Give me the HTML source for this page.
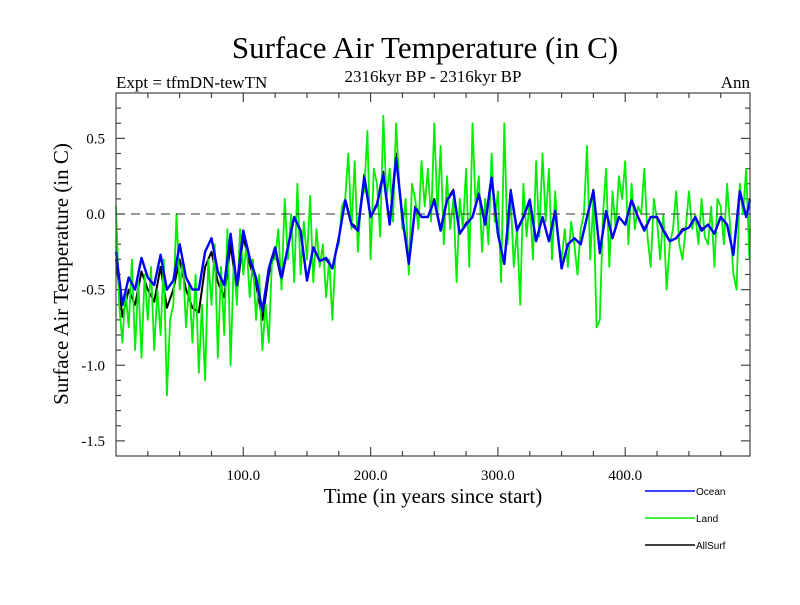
<!DOCTYPE html>
<html><head><meta charset="utf-8"><style>
body{margin:0;background:#fff;width:800px;height:600px;overflow:hidden}
svg text{font-family:"Liberation Serif",serif;fill:#000}
</style></head><body>
<svg id="chart" width="800" height="600" xmlns="http://www.w3.org/2000/svg">
<text x="425" y="58" font-size="31" text-anchor="middle">Surface Air Temperature (in C)</text>
<text x="116" y="88" font-size="17">Expt = tfmDN-tewTN</text>
<text x="433" y="82" font-size="17" text-anchor="middle">2316kyr BP - 2316kyr BP</text>
<text x="750" y="88" font-size="17" text-anchor="end">Ann</text>
<text x="433" y="503" font-size="21" text-anchor="middle">Time (in years since start)</text>
<text transform="translate(68,274) rotate(-90)" font-size="21" text-anchor="middle">Surface Air Temperature (in C)</text>
<g id="axes"></g>
<g id="series"></g>
<rect x="116" y="93" width="634" height="363" fill="none" stroke="#444" stroke-width="1.2"/>
<g>
<g><line x1="645" y1="491" x2="695" y2="491" stroke="#0000ff" stroke-width="1.5"/><text x="696" y="495" font-size="10" style="font-family:'Liberation Sans',sans-serif">Ocean</text></g>
<g><line x1="645" y1="518" x2="695" y2="518" stroke="#00ee00" stroke-width="1.5"/><text x="696" y="522" font-size="10" style="font-family:'Liberation Sans',sans-serif">Land</text></g>
<g><line x1="645" y1="545" x2="695" y2="545" stroke="#000" stroke-width="1.5"/><text x="696" y="549" font-size="10" style="font-family:'Liberation Sans',sans-serif">AllSurf</text></g>
</g>
</svg>
<script>
const xTickLabels=[100,200,300,400];
const yTickLabels=[0.5,0.0,-0.5,-1.0,-1.5];
const oceanStep=5;
const ocean=[-0.25,-0.6,-0.42,-0.5,-0.29,-0.42,-0.47,-0.27,-0.5,-0.44,-0.2,-0.42,-0.5,-0.5,-0.25,-0.16,-0.38,-0.47,-0.13,-0.47,
-0.11,-0.29,-0.42,-0.64,-0.36,-0.22,-0.42,-0.22,-0.02,-0.11,-0.44,-0.22,-0.31,-0.29,-0.36,-0.16,0.09,-0.07,-0.11,0.24,
-0.02,0.06,0.26,-0.07,0.37,-0.02,-0.33,0.04,-0.02,-0.02,0.09,-0.11,0.09,0.15,-0.13,-0.07,-0.02,0.13,-0.07,0.24,
-0.13,-0.33,0.15,-0.11,-0.02,0.09,-0.18,-0.02,-0.18,0.02,-0.36,-0.2,-0.16,-0.2,-0.02,0.15,-0.25,0.02,-0.16,-0.02,
-0.07,0.09,-0.02,-0.11,-0.02,-0.02,-0.11,-0.18,-0.16,-0.11,-0.09,-0.02,-0.11,-0.07,-0.13,-0.02,-0.07,-0.27,0.15,-0.02,0.09];
const allSurf=[-0.3,-0.68,-0.5,-0.6,-0.38,-0.5,-0.58,-0.35,-0.62,-0.5,-0.3,-0.5,-0.62,-0.65,-0.35,-0.25,-0.45,-0.55,-0.2,-0.52,
-0.15,-0.33,-0.46,-0.7,-0.4,-0.24,-0.44,-0.22,-0.02,-0.12,-0.44,-0.22,-0.31,-0.3,-0.36,-0.16,0.1,-0.06,-0.1,0.26,
-0.02,0.07,0.28,-0.06,0.4,-0.02,-0.33,0.05,-0.02,-0.02,0.1,-0.1,0.1,0.16,-0.13,-0.06,-0.02,0.14,-0.06,0.26,
-0.13,-0.33,0.16,-0.1,-0.02,0.1,-0.18,-0.02,-0.18,0.03,-0.36,-0.2,-0.16,-0.2,-0.02,0.16,-0.26,0.02,-0.16,-0.02,
-0.07,0.1,-0.02,-0.1,-0.02,-0.02,-0.1,-0.18,-0.16,-0.1,-0.09,-0.02,-0.1,-0.07,-0.13,-0.02,-0.07,-0.27,0.16,-0.02,0.1];
const landStep=2.5;
const land=[0.05,-0.6,-0.85,-0.5,-0.75,-0.3,-0.9,-0.45,-0.95,-0.4,
-0.7,-0.35,-0.9,-0.5,-0.8,-0.3,-1.2,-0.7,-0.6,0.0,
-0.5,-0.3,-0.75,-0.45,-0.85,-0.4,-1.05,-0.6,-1.1,-0.3,
-0.6,-0.2,-0.95,-0.35,-0.8,-0.1,-1.0,-0.3,-0.6,-0.1,
-0.4,-0.2,-0.55,-0.3,-0.7,-0.4,-0.9,-0.6,-0.85,-0.3,
-0.3,-0.1,-0.5,0.1,-0.3,0.0,-0.45,0.2,-0.4,-0.05,
-0.3,0.12,-0.45,-0.1,-0.35,-0.2,-0.55,-0.3,-0.7,-0.25,
-0.2,0.05,0.1,0.4,-0.1,0.35,-0.25,0.1,0.15,0.55,
-0.3,0.3,0.2,-0.15,0.65,0.1,0.3,-0.05,0.6,0.2,
-0.1,0.1,-0.4,0.2,0.1,-0.1,0.35,0.05,0.3,-0.05,
0.6,0.0,0.45,-0.2,0.25,-0.1,0.1,-0.45,0.1,-0.1,
0.3,-0.35,0.6,0.05,0.25,-0.25,0.1,-0.2,0.4,-0.05,
0.15,-0.45,0.6,-0.2,0.1,-0.35,-0.1,-0.6,0.2,-0.15,
0.1,-0.3,0.35,-0.15,0.4,-0.05,0.3,-0.3,0.15,-0.2,
-0.3,-0.1,-0.35,-0.05,-0.2,-0.4,-0.1,0.0,0.45,-0.3,
0.1,-0.75,-0.7,0.0,0.3,-0.35,0.15,-0.1,0.25,0.1,
0.35,-0.2,0.2,-0.1,0.05,0.0,0.3,-0.15,-0.35,0.1,
-0.05,-0.3,0.0,-0.5,-0.2,-0.1,0.15,-0.2,-0.3,-0.1,
0.15,-0.1,0.0,-0.2,0.1,-0.15,-0.2,0.05,-0.35,0.1,
0.05,-0.2,0.2,-0.1,-0.4,-0.5,0.2,0.0,0.3,-0.3,-0.1];

const X0=116,X1=750,Y0=93,Y1=456,T0=0,T1=498,V0=-1.6,V1=0.8;
const sx=t=>X0+(t-T0)/(T1-T0)*(X1-X0);
const sy=v=>Y1-(v-V0)/(V1-V0)*(Y1-Y0);
const NS='http://www.w3.org/2000/svg';
const axes=document.getElementById('axes'),series=document.getElementById('series');
function mk(tag,attrs,parent){const e=document.createElementNS(NS,tag);for(const k in attrs)e.setAttribute(k,attrs[k]);parent.appendChild(e);return e;}
for(let t=25;t<T1;t+=25){const major=t%100===0;const L=major?9:5;const x=sx(t);
 const a=mk('line',{x1:x,y1:Y1,x2:x,y2:Y1-L,stroke:'#444','stroke-width':1.2},axes);
 
 
 const b=mk('line',{x1:x,y1:Y0,x2:x,y2:Y0+L,stroke:'#444','stroke-width':1.2},axes);
 
 }
xTickLabels.forEach(t=>{const e=mk('text',{x:sx(t),y:Y1+24,'font-size':15,'text-anchor':'middle'},axes);e.textContent=t.toFixed(1);
 
 });
for(let i=-15;i<=8;i++){const v=i/10;const y=sy(v);if(y<=Y0+1||y>=Y1-1)continue;const major=i%5===0;const L=major?9:5;
 const a=mk('line',{x1:X0,y1:y,x2:X0+L,y2:y,stroke:'#444','stroke-width':1.2},axes);
 
 
 const b=mk('line',{x1:X1,y1:y,x2:X1-L,y2:y,stroke:'#444','stroke-width':1.2},axes);
 
 }
yTickLabels.forEach(v=>{const e=mk('text',{x:X0-11,y:sy(v)+5,'font-size':15,'text-anchor':'end'},axes);e.textContent=v.toFixed(1);
 
 });
function path(arr,step,color,w,name){const d=arr.map((v,i)=>(i?'L':'M')+sx(Math.min(i*step,T1)).toFixed(1)+','+sy(v).toFixed(1)).join('');
 const p=mk('path',{d:d,fill:'none',stroke:color,'stroke-width':w,'stroke-linejoin':'round'},series);
 
 }
path(allSurf,oceanStep,'#000',2,'allsurf-line');
path(land,landStep,'#00ee00',1.8,'land-line');
path(ocean,oceanStep,'#0000ff',2.4,'ocean-line');
const z=mk('line',{x1:X0,y1:sy(0),x2:X1,y2:sy(0),stroke:'#333','stroke-width':1,'stroke-dasharray':'9,6'},series);


</script>
</body></html>
